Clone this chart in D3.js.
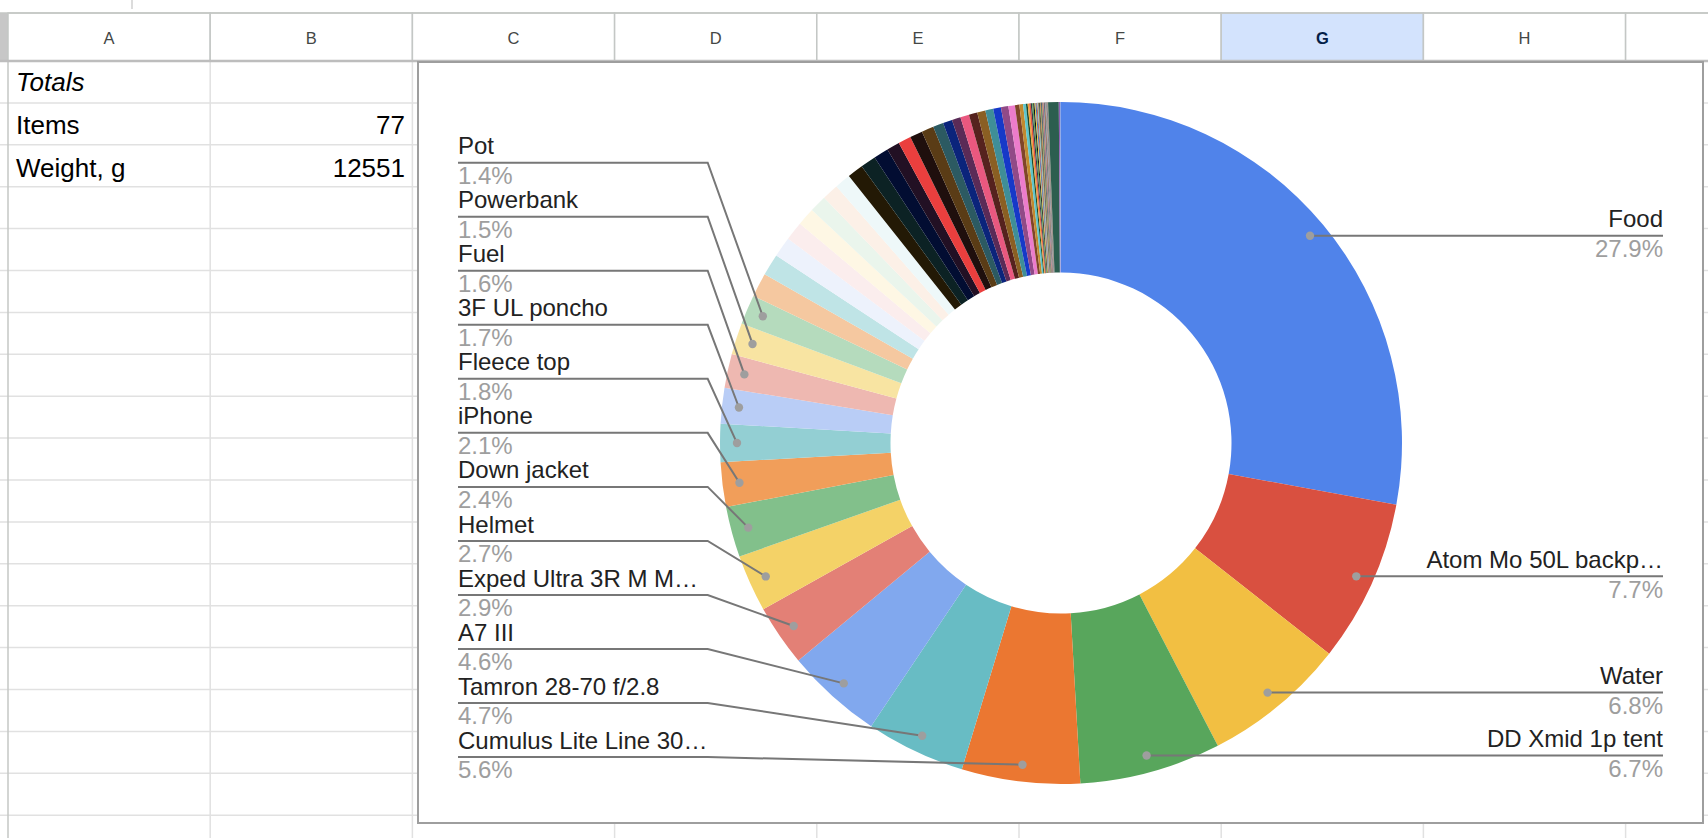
<!DOCTYPE html>
<html>
<head>
<meta charset="utf-8">
<script src="https://cdn.jsdelivr.net/npm/d3@7"></script>
<style>
  body { margin: 0; background: #fff; }
  svg { display: block; font-family: "Liberation Sans", Arial, sans-serif; }
</style>
</head>
<body>
<script>
// item weights in grams, in sheet order (largest first)
const weights = [
  3502, 966, 853, 841, 703, 590, 577, 364, 339, 301, 264, 226, 213, 201, 188, 176,
  143, 130, 120, 112, 106, 102, 98, 95,
  94, 92, 88, 77, 76, 75, 72, 62, 55, 52, 52, 50, 49, 47, 46, 44, 39, 26, 22, 17,
  10, 9, 9, 8, 7, 7, 6, 6, 5, 5, 5, 5, 4, 4, 4, 4, 4, 3, 3, 3, 3, 3, 2, 2, 2, 2, 2, 1, 1, 1,
  63, 7, 6
];

// names that get a label on the chart (first 16 slices)
const labelNames = [
  'Food', 'Atom Mo 50L backp\u2026', 'Water', 'DD Xmid 1p tent',
  'Cumulus Lite Line 30\u2026', 'Tamron 28-70 f/2.8', 'A7 III', 'Exped Ultra 3R M M\u2026',
  'Helmet', 'Down jacket', 'iPhone', 'Fleece top', '3F UL poncho', 'Fuel', 'Powerbank', 'Pot'
];

const colors = [
  '#5083ea', '#d95040', '#f2bf42', '#58a65c', '#eb7731', '#68bcc4', '#81a8ee', '#e38076',
  '#f4d267', '#82c08b', '#f19e5a', '#93cfd3', '#b9cdf6', '#eeb8b1', '#f8e4a2', '#b5dbbd',
  '#f5c8a0', '#bfe4e6', '#edf2fc', '#fbeded', '#fef7e4', '#eaf5ec', '#fcf0e7', '#eef8f9',
  '#231905', '#0c2224', '#020d32', '#221024', '#ea3f3e', '#1f0f0d', '#5a3c16', '#2c5a62',
  '#0b247b', '#5b2b57', '#e9587f', '#55221e', '#8a5f23', '#3f8e97', '#1639c8', '#914a87',
  '#ec7ccb', '#7f4529', '#c18a2f', '#5dc5cb',
  '#1d4b2a', '#f0a033', '#e2553b', '#2f3b4c', '#5aa351', '#111111', '#e8c53a', '#3b6fb8',
  '#c44a2e', '#76c3d0', '#8a6d3b', '#2a3a2a', '#d98b3a', '#4a7a4a', '#1e2a55', '#b0a040',
  '#6a3a6a', '#e07070', '#3a8a9a', '#222222', '#c06030', '#7090c0', '#405020', '#e0a0c0',
  '#205050', '#a07050', '#303060', '#d0c060', '#608060', '#a04040',
  '#2c5e4f', '#8e5eb0', '#8ca6e6'
];

// visible column letters; one more header cell runs off the right edge
const columns = ['A', 'B', 'C', 'D', 'E', 'F', 'G', 'H', ''];
const selectedColumn = 'G';

const W = 1708, H = 838;
const total = d3.sum(weights);

const svg = d3.select('body').append('svg')
  .attr('width', W)
  .attr('height', H);

// ---- spreadsheet grid ----
const colX = d3.scaleLinear().domain([0, 1]).range([8, 210.2]);
const rowY = d3.scaleLinear().domain([0, 1]).range([61, 102.9]);
const headTop = 13, headBottom = 61;

const grid = svg.append('g');
d3.range(0, 20).forEach((r) => {
  grid.append('line')
    .attr('x1', 0).attr('x2', W)
    .attr('y1', rowY(r)).attr('y2', rowY(r))
    .attr('stroke', '#e1e1e1').attr('stroke-width', 1.5);
});
columns.forEach((c, i) => {
  grid.append('line')
    .attr('x1', colX(i + 1)).attr('x2', colX(i + 1))
    .attr('y1', headBottom).attr('y2', H)
    .attr('stroke', '#e1e1e1').attr('stroke-width', 1.5);
});
grid.append('line')
  .attr('x1', colX(0)).attr('x2', colX(0))
  .attr('y1', headTop).attr('y2', H)
  .attr('stroke', '#c4c7c5').attr('stroke-width', 1.5);

// column header
const head = svg.append('g');
head.append('rect')
  .attr('x', 0).attr('y', headTop)
  .attr('width', colX(0)).attr('height', headBottom - headTop)
  .attr('fill', '#c7c7c7');
columns.forEach((c, i) => {
  head.append('rect')
    .attr('x', colX(i)).attr('y', headTop)
    .attr('width', colX(1) - colX(0)).attr('height', headBottom - headTop)
    .attr('fill', c === selectedColumn ? '#d3e3fd' : '#ffffff')
    .attr('stroke', '#c4c7c5').attr('stroke-width', 1.5);
  head.append('text')
    .attr('x', (colX(i) + colX(i + 1)) / 2)
    .attr('y', 43.5)
    .attr('text-anchor', 'middle')
    .attr('font-size', 16.5)
    .attr('font-weight', c === selectedColumn ? 'bold' : 'normal')
    .attr('fill', c === selectedColumn ? '#041e49' : '#444746')
    .text(c);
});
head.append('line')
  .attr('x1', 0).attr('x2', W)
  .attr('y1', headTop).attr('y2', headTop)
  .attr('stroke', '#c4c7c5').attr('stroke-width', 1.5);
head.append('line')
  .attr('x1', 0).attr('x2', W)
  .attr('y1', headBottom).attr('y2', headBottom)
  .attr('stroke', '#bdbdbd').attr('stroke-width', 2.5);
head.append('line')
  .attr('x1', 132).attr('x2', 132)
  .attr('y1', 0).attr('y2', 9)
  .attr('stroke', '#d0d0d0').attr('stroke-width', 1.5);

// cells
const cells = svg.append('g').attr('font-size', 26).attr('fill', '#000');
cells.append('text').attr('x', 16).attr('y', 91).attr('font-style', 'italic').text('Totals');
cells.append('text').attr('x', 16).attr('y', 134).text('Items');
cells.append('text').attr('x', 16).attr('y', 176.5).text('Weight, g');
cells.append('text').attr('x', 405).attr('y', 134).attr('text-anchor', 'end').text(weights.length);
cells.append('text').attr('x', 405).attr('y', 176.5).attr('text-anchor', 'end').text(total);

// ---- chart box ----
const box = { x: 418, y: 62, w: 1285, h: 761 };
svg.append('rect')
  .attr('x', box.x).attr('y', box.y)
  .attr('width', box.w).attr('height', box.h)
  .attr('fill', '#fff')
  .attr('stroke', '#9e9e9e').attr('stroke-width', 2);

const cx = 1061, cy = 443;
const outerR = 341, innerR = 170.5, dotR = 324;

const pie = d3.pie().sort(null).value(d => d);
const arcs = pie(weights);

const arc = d3.arc().innerRadius(innerR).outerRadius(outerR);
const dotArc = d3.arc().innerRadius(dotR).outerRadius(dotR);

const chart = svg.append('g').attr('transform', `translate(${cx},${cy})`);
chart.selectAll('path')
  .data(arcs)
  .enter()
  .append('path')
  .attr('d', arc)
  .attr('fill', (d, i) => colors[i]);

// ---- labels ----
const pct = d3.format('.1f');
const labels = svg.append('g').attr('font-size', 24);
const lineColor = '#777';
const leftX = 458, bendX = 707.7, rightX = 1663;
const leftTop = 162.7, leftStep = 54.03;

labelNames.forEach((name, i) => {
  const a = arcs[i];
  const [dx, dy] = dotArc.centroid(a);
  const px = cx + dx, py = cy + dy;
  const txt = pct(a.value / total * 100) + '%';
  const right = (a.startAngle + a.endAngle) / 2 < Math.PI;

  let ly;
  if (right) {
    ly = py;
    labels.append('line')
      .attr('x1', px).attr('y1', py)
      .attr('x2', rightX).attr('y2', py)
      .attr('stroke', lineColor).attr('stroke-width', 2);
  } else {
    ly = leftTop + (labelNames.length - 1 - i) * leftStep;
    labels.append('path')
      .attr('d', `M${leftX},${ly}L${bendX},${ly}L${px},${py}`)
      .attr('fill', 'none')
      .attr('stroke', lineColor).attr('stroke-width', 2);
  }
  labels.append('circle')
    .attr('cx', px).attr('cy', py).attr('r', 4.2)
    .attr('fill', '#9e9e9e');

  const tx = right ? rightX : leftX;
  const anchor = right ? 'end' : 'start';
  labels.append('text')
    .attr('x', tx).attr('y', ly - 8.4)
    .attr('text-anchor', anchor)
    .attr('fill', '#222')
    .text(name);
  labels.append('text')
    .attr('x', tx).attr('y', ly + 21.3)
    .attr('text-anchor', anchor)
    .attr('fill', '#9e9e9e')
    .text(txt);
});
</script>
</body>
</html>
